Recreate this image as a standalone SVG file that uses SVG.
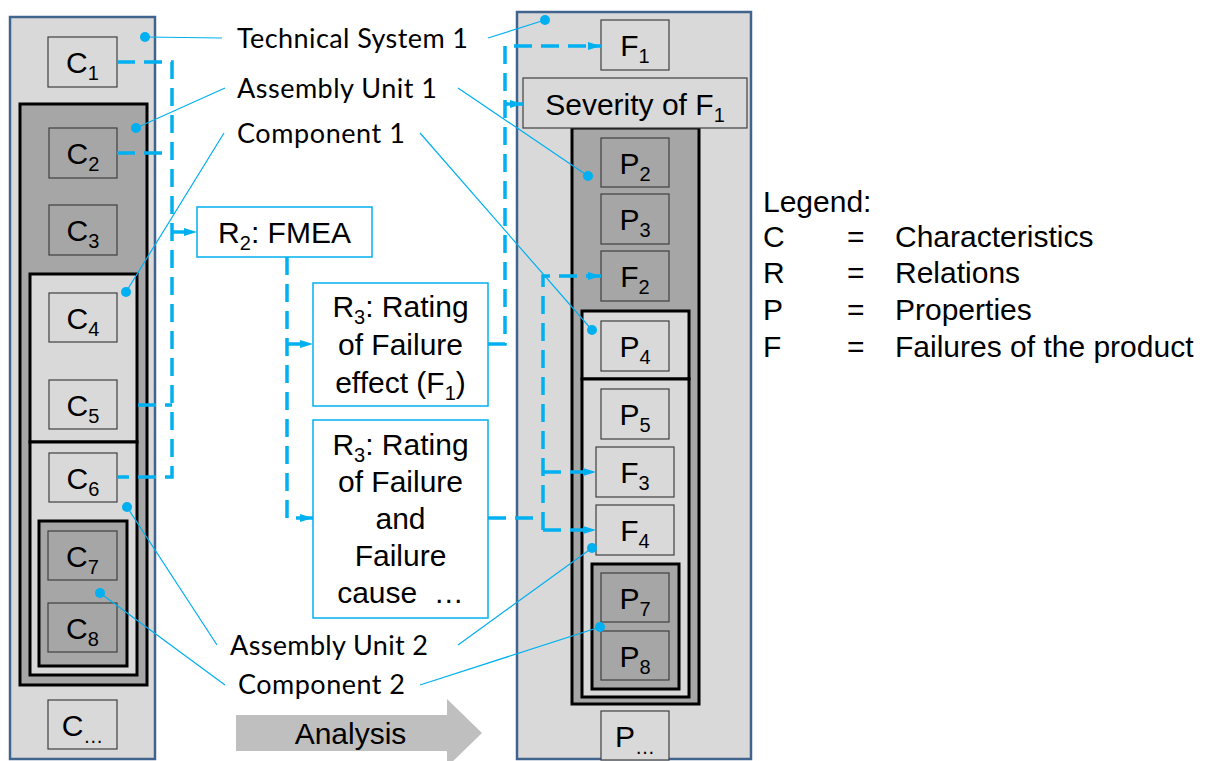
<svg xmlns="http://www.w3.org/2000/svg" width="1211" height="761" viewBox="0 0 1211 761">
<defs>
<style>
.col{fill:#d9d9d9;stroke:#41648f;stroke-width:2.5}
.lt{fill:#d9d9d9;stroke:#404040;stroke-width:1.2}
.dk{fill:#a6a6a6;stroke:#404040;stroke-width:1.2}
.gd{fill:#a6a6a6;stroke:#000;stroke-width:3}
.gl{fill:#d9d9d9;stroke:#000;stroke-width:3}
.rel{fill:#fff;stroke:#00b0f0;stroke-width:1.5}
.t{font-family:"Liberation Sans",Arial,sans-serif;font-size:30px;fill:#000;text-anchor:middle}
.lg{font-family:"Liberation Sans",Arial,sans-serif;font-size:30px;fill:#000}
.s{font-size:20px}
.lbl{font-family:Lato,"Open Sans",sans-serif;font-size:27px;fill:#000}
.lead{stroke:#00b0f0;stroke-width:1.2;fill:none}
.dot{fill:#00b0f0}
.dash{stroke:#00b0f0;stroke-width:3.5;fill:none;stroke-dasharray:18 9}
</style>
<marker id="ah" markerUnits="userSpaceOnUse" markerWidth="14" markerHeight="10" refX="13" refY="5" orient="auto"><path d="M0,1 L13,5 L0,9 z" fill="#00b0f0"/></marker>
</defs>
<rect width="1211" height="761" fill="#fff"/>

<g id="left-system">
<rect class="col" x="10" y="17" width="145" height="742"/>
<rect class="gd" x="20" y="104" width="127" height="581"/>
<rect class="gl" x="30" y="274" width="107" height="168"/>
<rect class="gl" x="30" y="442" width="107" height="233"/>
<rect class="gd" x="39" y="521" width="88" height="145"/>
</g>
<g id="C1"><rect class="lt" x="48" y="37" width="69" height="50"/><text class="t" x="82.5" y="73">C<tspan class="s" dy="7">1</tspan></text></g>
<g id="C2"><rect class="dk" x="49" y="128" width="68" height="50"/><text class="t" x="83" y="164">C<tspan class="s" dy="7">2</tspan></text></g>
<g id="C3"><rect class="dk" x="49" y="205" width="68" height="50"/><text class="t" x="83" y="241">C<tspan class="s" dy="7">3</tspan></text></g>
<g id="C4"><rect class="lt" x="49" y="293" width="68" height="49"/><text class="t" x="83" y="329">C<tspan class="s" dy="7">4</tspan></text></g>
<g id="C5"><rect class="lt" x="49" y="380" width="68" height="49"/><text class="t" x="83" y="416">C<tspan class="s" dy="7">5</tspan></text></g>
<g id="C6"><rect class="lt" x="49" y="453" width="68" height="49"/><text class="t" x="83" y="489">C<tspan class="s" dy="7">6</tspan></text></g>
<g id="C7"><rect class="dk" x="48" y="531" width="69" height="49"/><text class="t" x="82.5" y="567">C<tspan class="s" dy="7">7</tspan></text></g>
<g id="C8"><rect class="dk" x="48" y="603" width="69" height="49"/><text class="t" x="82.5" y="639">C<tspan class="s" dy="7">8</tspan></text></g>
<g id="Cn"><rect class="lt" x="48" y="700" width="69" height="49"/><text class="t" x="82.5" y="736">C<tspan class="s" dy="7">…</tspan></text></g>

<g id="right-system">
<rect class="col" x="517" y="12" width="234" height="747"/>
<rect class="gd" x="572" y="128" width="127" height="576"/>
<rect class="gl" x="582" y="311" width="107" height="68"/>
<rect class="gl" x="582" y="379" width="107" height="318"/>
<rect class="gd" x="592" y="564" width="87" height="125"/>
</g>
<g id="F1"><rect class="lt" x="601" y="20" width="68" height="50"/><text class="t" x="635" y="56">F<tspan class="s" dy="7">1</tspan></text></g>
<g id="SevF1"><rect class="lt" x="523" y="78" width="224" height="50"/><text class="t" x="635" y="115">Severity of F<tspan class="s" dy="7">1</tspan></text></g>
<g id="P2"><rect class="dk" x="601" y="138" width="68" height="49"/><text class="t" x="635" y="174">P<tspan class="s" dy="7">2</tspan></text></g>
<g id="P3"><rect class="dk" x="601" y="194" width="68" height="50"/><text class="t" x="635" y="230">P<tspan class="s" dy="7">3</tspan></text></g>
<g id="F2"><rect class="dk" x="601" y="251" width="68" height="50"/><text class="t" x="635" y="287">F<tspan class="s" dy="7">2</tspan></text></g>
<g id="P4"><rect class="lt" x="601" y="321" width="68" height="50"/><text class="t" x="635" y="357">P<tspan class="s" dy="7">4</tspan></text></g>
<g id="P5"><rect class="lt" x="601" y="389" width="68" height="50"/><text class="t" x="635" y="425">P<tspan class="s" dy="7">5</tspan></text></g>
<g id="F3"><rect class="lt" x="596" y="447" width="78" height="50"/><text class="t" x="635" y="483">F<tspan class="s" dy="7">3</tspan></text></g>
<g id="F4"><rect class="lt" x="596" y="505" width="78" height="50"/><text class="t" x="635" y="541">F<tspan class="s" dy="7">4</tspan></text></g>
<g id="P7"><rect class="dk" x="601" y="573" width="68" height="49"/><text class="t" x="635" y="609">P<tspan class="s" dy="7">7</tspan></text></g>
<g id="P8"><rect class="dk" x="601" y="631" width="68" height="49"/><text class="t" x="635" y="667">P<tspan class="s" dy="7">8</tspan></text></g>
<g id="Pn"><rect class="lt" x="601" y="711" width="68" height="49"/><text class="t" x="635" y="747">P<tspan class="s" dy="7">…</tspan></text></g>

<g id="R2"><rect class="rel" x="197" y="207" width="175" height="50"/><text class="t" x="284.5" y="243">R<tspan class="s" dy="7">2</tspan><tspan dy="-7">: FMEA</tspan></text></g>
<g id="R3a"><rect class="rel" x="313" y="283" width="175" height="123"/>
<text class="t" x="400.5" y="317">R<tspan class="s" dy="7">3</tspan><tspan dy="-7">: Rating</tspan></text>
<text class="t" x="400.5" y="355">of Failure</text>
<text class="t" x="400.5" y="393">effect (F<tspan class="s" dy="7">1</tspan><tspan dy="-7">)</tspan></text></g>
<g id="R3b"><rect class="rel" x="313" y="420" width="175" height="198"/>
<text class="t" x="400.5" y="455">R<tspan class="s" dy="7">3</tspan><tspan dy="-7">: Rating</tspan></text>
<text class="t" x="400.5" y="492">of Failure</text>
<text class="t" x="400.5" y="529">and</text>
<text class="t" x="400.5" y="566">Failure</text>
<text class="t" x="400.5" y="603">cause &#160;…</text></g>

<g id="labels">
<text class="lbl" x="237" y="48" textLength="231">Technical System 1</text>
<text class="lbl" x="237" y="98" textLength="200">Assembly Unit 1</text>
<text class="lbl" x="237" y="143" textLength="168">Component 1</text>
<text class="lbl" x="230" y="655" textLength="198">Assembly Unit 2</text>
<text class="lbl" x="238" y="694" textLength="167">Component 2</text>
</g>

<g id="analysis">
<polygon points="236,715 447,715 447,699 482,733 447,767 447,751 236,751" fill="#bfbfbf"/>
<text class="t" x="350.5" y="744">Analysis</text>
</g>

<g id="legend">
<text class="lg" x="763" y="212">Legend:</text>
<text class="lg" x="763" y="247">C</text><text class="lg" x="847" y="247">=</text><text class="lg" x="895" y="247">Characteristics</text>
<text class="lg" x="763" y="283">R</text><text class="lg" x="847" y="283">=</text><text class="lg" x="895" y="283">Relations</text>
<text class="lg" x="763" y="320">P</text><text class="lg" x="847" y="320">=</text><text class="lg" x="895" y="320">Properties</text>
<text class="lg" x="763" y="357">F</text><text class="lg" x="847" y="357">=</text><text class="lg" x="895" y="357">Failures of the product</text>
</g>

<g id="leaders">
<path class="lead" d="M145,37 L222,38 M136,128 L225,88 M126,292 L224,133 M127,507 L217,645 M100,593 L225,685"/>
<path class="lead" d="M488,38 L545,20 M458,88 L588,176 M420,133 L592,330 M458,645 L592,548 M420,685 L600,627"/>
<circle class="dot" cx="145" cy="37" r="5"/><circle class="dot" cx="136" cy="128" r="5"/><circle class="dot" cx="126" cy="292" r="5"/><circle class="dot" cx="127" cy="507" r="5"/><circle class="dot" cx="100" cy="593" r="5"/>
<circle class="dot" cx="545" cy="20" r="5"/><circle class="dot" cx="588" cy="176" r="5"/><circle class="dot" cx="592" cy="330" r="5"/><circle class="dot" cx="592" cy="548" r="5"/><circle class="dot" cx="600" cy="627" r="5"/>
</g>

<g id="connectors">
<path class="dash" d="M117,62 H172 V477 H117"/>
<path class="dash" d="M117,153 H172"/>
<path class="dash" d="M138,405 H172"/>
<path class="dash" d="M172,232 H197" marker-end="url(#ah)"/>
<path class="dash" d="M287,257 V518 H313" marker-end="url(#ah)"/>
<path class="dash" d="M287,344 H313" marker-end="url(#ah)"/>
<path class="dash" d="M488,344 H505 V46 H601" marker-end="url(#ah)"/>
<path class="dash" d="M505,104 H523" marker-end="url(#ah)"/>
<path class="dash" d="M488,518 H543"/>
<path class="dash" d="M543,530 V276 H601" marker-end="url(#ah)"/>
<path class="dash" d="M543,472 H596" marker-end="url(#ah)"/>
<path class="dash" d="M543,530 H596" marker-end="url(#ah)"/>
</g>
</svg>
